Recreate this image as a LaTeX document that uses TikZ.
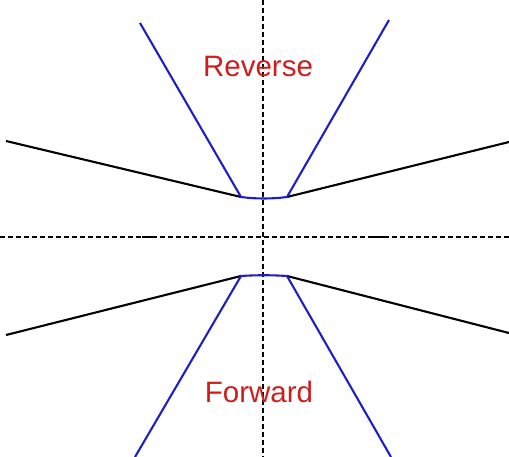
\documentclass[tikz,border=0pt]{standalone}
\usepackage{fontspec}
\setmainfont{Liberation Sans}
\definecolor{lineblue}{RGB}{30,30,200}
\definecolor{labelred}{RGB}{205,30,30}
\begin{document}
\begin{tikzpicture}[x=1pt,y=-1pt,
  axisline/.style={black,line width=1.5pt,dash pattern=on 5pt off 3pt},
  curveline/.style={black,line width=2.1pt},
  bound/.style={lineblue,line width=2.1pt},
  lbl/.style={labelred,font=\fontsize{29.5}{34}\selectfont}]
\useasboundingbox (0,0) rectangle (509,457);
\draw[axisline] (263,0) -- (263,457);
\draw[axisline] (0,237) -- (509,237);
\draw[black,line width=2pt] (142,237) -- (156,237);
\draw[black,line width=2pt] (368,237) -- (386,237);
% upper branch
\draw[curveline] (6,141) -- (241,197);
\draw[curveline] (287,197) -- (509,142);
\draw[bound] (140,23) -- (241,197)
  .. controls (256,199) and (272,199) .. (287,197) -- (389,20);
% lower branch
\draw[curveline] (6,335) -- (241,276);
\draw[curveline] (287,276) -- (509,333);
\draw[bound] (135,457) -- (241,276)
  .. controls (256,275) and (272,275) .. (287,276) -- (391,457);
\node[lbl] (rev) at (258,66) {Reverse};
\node[lbl] (fwd) at (259,392) {Forward};
\end{tikzpicture}
\end{document}
